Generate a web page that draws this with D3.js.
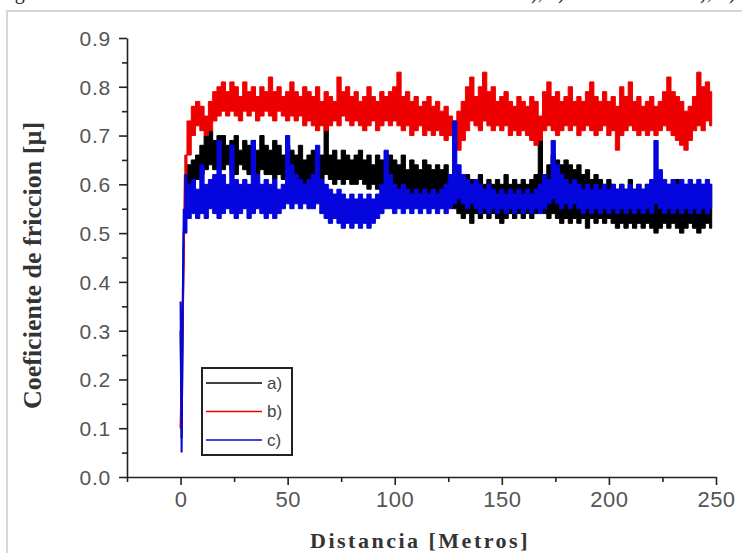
<!DOCTYPE html>
<html>
<head>
<meta charset="utf-8">
<script src="https://cdn.jsdelivr.net/npm/d3@7"></script>
<style>
  html, body { margin: 0; padding: 0; background: #fff; }
  svg { display: block; }
</style>
</head>
<body>
<div id="chart"></div>
<script>
// Friction coefficient vs sliding distance, three coatings a), b), c)
const series = ['a)', 'b)', 'c)']
const colors = ['#000000', '#ee0000', '#0505dd']

const xTicks = [0, 50, 100, 150, 200, 250]
const xMinor = [-25, 25, 75, 125, 175, 225]
const yTicks = [0, 0.1, 0.2, 0.3, 0.4, 0.5, 0.6, 0.7, 0.8, 0.9]
const yMinor = [0.05, 0.15, 0.25, 0.35, 0.45, 0.55, 0.65, 0.75, 0.85]

// running-in ramp (first 2 m)
const rampDist = [0, 0.5, 1, 1.5, 2]
const rampA = [0.30, 0.08, 0.30, 0.50, 0.54]
const rampB = [0.10, 0.20, 0.32, 0.45, 0.62]
const rampC = [0.36, 0.05, 0.35, 0.55, 0.52]

// steady part, sampled every 2 m from 2 to 248 m: lower / upper edge of the noisy band
const dist = d3.range(2, 249, 2)

const hiA = [
  0.62, 0.64, 0.65, 0.66, 0.68, 0.70, 0.71, 0.69, 0.70, 0.70,
  0.68, 0.69, 0.70, 0.67, 0.69, 0.68, 0.69, 0.67, 0.70, 0.68,
  0.67, 0.69, 0.68, 0.66, 0.68, 0.67, 0.66, 0.68, 0.65, 0.66,
  0.67, 0.65, 0.66, 0.73, 0.66, 0.67, 0.65, 0.67, 0.66, 0.65,
  0.66, 0.67, 0.65, 0.66, 0.64, 0.66, 0.65, 0.64, 0.66, 0.65,
  0.64, 0.66, 0.63, 0.65, 0.64, 0.63, 0.65, 0.64, 0.63, 0.64,
  0.63, 0.64, 0.62, 0.63, 0.62, 0.61, 0.62, 0.61, 0.60, 0.62,
  0.60, 0.61, 0.60, 0.61, 0.60, 0.62, 0.60, 0.61, 0.60, 0.61,
  0.60, 0.61, 0.62, 0.70, 0.62, 0.64, 0.66, 0.65, 0.64, 0.65,
  0.64, 0.63, 0.64, 0.62, 0.63, 0.61, 0.62, 0.61, 0.60, 0.61,
  0.60, 0.59, 0.60, 0.59, 0.61, 0.59, 0.60, 0.59, 0.60, 0.59,
  0.58, 0.60, 0.59, 0.60, 0.59, 0.61, 0.59, 0.60, 0.59, 0.60,
  0.59, 0.60, 0.59, 0.60
]
const loA = [
  0.54, 0.58, 0.60, 0.61, 0.62, 0.63, 0.64, 0.63, 0.64, 0.63,
  0.64, 0.63, 0.62, 0.64, 0.63, 0.62, 0.63, 0.62, 0.63, 0.62,
  0.62, 0.61, 0.62, 0.61, 0.62, 0.61, 0.62, 0.61, 0.60, 0.61,
  0.61, 0.60, 0.61, 0.62, 0.61, 0.60, 0.61, 0.60, 0.61, 0.60,
  0.60, 0.61, 0.60, 0.59, 0.60, 0.59, 0.60, 0.59, 0.60, 0.59,
  0.59, 0.60, 0.59, 0.58, 0.59, 0.58, 0.59, 0.58, 0.59, 0.58,
  0.58, 0.57, 0.56, 0.55, 0.54, 0.53, 0.54, 0.52, 0.54, 0.53,
  0.54, 0.53, 0.54, 0.53, 0.52, 0.53, 0.54, 0.53, 0.54, 0.53,
  0.54, 0.53, 0.54, 0.55, 0.54, 0.53, 0.54, 0.53, 0.52, 0.53,
  0.52, 0.53, 0.52, 0.53, 0.51, 0.53, 0.52, 0.53, 0.52, 0.53,
  0.52, 0.51, 0.52, 0.51, 0.52, 0.51, 0.52, 0.51, 0.52, 0.51,
  0.50, 0.51, 0.52, 0.51, 0.52, 0.51, 0.50, 0.51, 0.52, 0.51,
  0.50, 0.51, 0.52, 0.51
]

const hiB = [
  0.66, 0.73, 0.76, 0.77, 0.76, 0.74, 0.77, 0.79, 0.80, 0.81,
  0.79, 0.81, 0.80, 0.78, 0.81, 0.79, 0.80, 0.78, 0.80, 0.79,
  0.82, 0.79, 0.80, 0.78, 0.79, 0.81, 0.79, 0.78, 0.80, 0.79,
  0.78, 0.80, 0.77, 0.79, 0.78, 0.77, 0.82, 0.79, 0.80, 0.78,
  0.79, 0.77, 0.78, 0.80, 0.78, 0.77, 0.79, 0.78, 0.79, 0.80,
  0.83, 0.78, 0.79, 0.77, 0.78, 0.76, 0.77, 0.78, 0.76, 0.77,
  0.75, 0.76, 0.74, 0.73, 0.75, 0.77, 0.80, 0.82, 0.78, 0.80,
  0.83, 0.79, 0.80, 0.77, 0.78, 0.79, 0.77, 0.76, 0.78, 0.77,
  0.76, 0.78, 0.77, 0.74, 0.79, 0.81, 0.78, 0.79, 0.77, 0.78,
  0.80, 0.77, 0.78, 0.77, 0.79, 0.81, 0.78, 0.77, 0.79, 0.77,
  0.78, 0.76, 0.80, 0.78, 0.81, 0.77, 0.78, 0.76, 0.77, 0.78,
  0.76, 0.77, 0.79, 0.82, 0.79, 0.78, 0.77, 0.75, 0.76, 0.78,
  0.83, 0.80, 0.81, 0.79
]
const loB = [
  0.62, 0.66, 0.70, 0.72, 0.71, 0.70, 0.71, 0.73, 0.74, 0.75,
  0.74, 0.75, 0.74, 0.73, 0.75, 0.74, 0.75, 0.73, 0.74, 0.75,
  0.74, 0.73, 0.75, 0.74, 0.73, 0.74, 0.73, 0.74, 0.72, 0.73,
  0.72, 0.71, 0.72, 0.71, 0.72, 0.73, 0.72, 0.74, 0.73, 0.72,
  0.73, 0.72, 0.71, 0.72, 0.73, 0.71, 0.72, 0.73, 0.72, 0.73,
  0.72, 0.71, 0.72, 0.70, 0.71, 0.72, 0.70, 0.71, 0.70, 0.71,
  0.70, 0.69, 0.70, 0.68, 0.67, 0.69, 0.71, 0.73, 0.72, 0.71,
  0.73, 0.72, 0.71, 0.72, 0.71, 0.72, 0.70, 0.71, 0.70, 0.71,
  0.70, 0.69, 0.68, 0.69, 0.71, 0.72, 0.71, 0.70, 0.71, 0.72,
  0.71, 0.72, 0.70, 0.71, 0.72, 0.71, 0.70, 0.71, 0.72, 0.70,
  0.71, 0.67, 0.70, 0.71, 0.72, 0.71, 0.70, 0.71, 0.70, 0.71,
  0.70, 0.71, 0.72, 0.71, 0.70, 0.69, 0.68, 0.67, 0.69, 0.71,
  0.72, 0.71, 0.73, 0.72
]

const hiC = [
  0.62, 0.60, 0.61, 0.59, 0.64, 0.60, 0.61, 0.62, 0.69, 0.62,
  0.60, 0.68, 0.61, 0.60, 0.61, 0.60, 0.69, 0.62, 0.60, 0.61,
  0.60, 0.61, 0.59, 0.60, 0.70, 0.64, 0.62, 0.61, 0.60, 0.61,
  0.62, 0.68, 0.61, 0.60, 0.59, 0.58, 0.59, 0.58, 0.57, 0.58,
  0.57, 0.58, 0.57, 0.58, 0.57, 0.58, 0.60, 0.67, 0.62, 0.60,
  0.59, 0.60, 0.59, 0.58, 0.59, 0.58, 0.59, 0.58, 0.59, 0.58,
  0.59, 0.60, 0.62, 0.73, 0.64, 0.62, 0.61, 0.60, 0.61, 0.60,
  0.59, 0.60, 0.59, 0.58, 0.59, 0.58, 0.59, 0.58, 0.59, 0.58,
  0.59, 0.58, 0.59, 0.60, 0.62, 0.61, 0.69, 0.64, 0.62, 0.61,
  0.60, 0.61, 0.60, 0.59, 0.60, 0.59, 0.60, 0.59, 0.60, 0.59,
  0.60, 0.59, 0.60, 0.59, 0.60, 0.59, 0.60, 0.59, 0.60, 0.61,
  0.69, 0.63, 0.61, 0.60, 0.61, 0.60, 0.61, 0.60, 0.61, 0.60,
  0.61, 0.60, 0.61, 0.60
]
const loC = [
  0.50, 0.53, 0.54, 0.53, 0.54, 0.53, 0.55, 0.54, 0.53, 0.54,
  0.55, 0.54, 0.53, 0.54, 0.55, 0.53, 0.54, 0.55, 0.54, 0.53,
  0.54, 0.53, 0.54, 0.55, 0.56, 0.55, 0.56, 0.55, 0.56, 0.55,
  0.55, 0.56, 0.54, 0.53, 0.52, 0.53, 0.52, 0.51, 0.52, 0.51,
  0.52, 0.51, 0.52, 0.51, 0.52, 0.53, 0.54, 0.55, 0.55, 0.54,
  0.55, 0.54, 0.55, 0.54, 0.55, 0.54, 0.55, 0.54, 0.55, 0.54,
  0.55, 0.54, 0.55, 0.56, 0.57, 0.56, 0.55, 0.56, 0.55, 0.54,
  0.55, 0.54, 0.55, 0.54, 0.55, 0.54, 0.55, 0.54, 0.55, 0.54,
  0.55, 0.54, 0.55, 0.54, 0.55, 0.56, 0.57, 0.56, 0.55, 0.56,
  0.55, 0.56, 0.55, 0.54, 0.55, 0.54, 0.55, 0.54, 0.55, 0.54,
  0.55, 0.54, 0.55, 0.54, 0.55, 0.54, 0.55, 0.54, 0.55, 0.54,
  0.56, 0.55, 0.54, 0.55, 0.54, 0.55, 0.54, 0.55, 0.54, 0.55,
  0.54, 0.55, 0.54, 0.55
]

const width = 742
const height = 553

const x = d3.scaleLinear().domain([-25, 250]).range([127, 716])
const y = d3.scaleLinear().domain([0, 0.9]).range([477, 38])

const svg = d3
  .select('#chart')
  .append('svg')
  .attr('width', width)
  .attr('height', height)

svg.append('rect').attr('width', width).attr('height', height).attr('fill', '#fff')

// leftover of the caption line cut off above the figure
const capStyle = (t) =>
  t.style('font-family', '"Liberation Serif", serif').style('font-size', '20px').attr('fill', '#222')
capStyle(svg.append('text').attr('x', -2).attr('y', -1).text('Fig'))
capStyle(svg.append('text').attr('x', 531).attr('y', -1).text('),'))
capStyle(svg.append('text').attr('x', 558).attr('y', -1).text(')'))
capStyle(svg.append('text').attr('x', 700).attr('y', -1).text('),'))
capStyle(svg.append('text').attr('x', 729).attr('y', -1).text(')'))

// light frame around the figure
svg
  .append('rect')
  .attr('x', 7)
  .attr('y', 11)
  .attr('width', 800)
  .attr('height', 600)
  .attr('fill', 'none')
  .attr('stroke', '#d8d8d8')
  .attr('stroke-width', 2)

// data layers: a) black, b) red, c) blue on top
const plot = svg.append('g').attr('class', 'plot')
const bands = [
  { ramp: rampA, lo: loA, hi: hiA },
  { ramp: rampB, lo: loB, hi: hiB },
  { ramp: rampC, lo: loC, hi: hiC },
]

const area = d3
  .area()
  .curve(d3.curveStep)
  .x((d) => x(d.d))
  .y0((d) => y(d.lo))
  .y1((d) => y(d.hi))

const line = d3
  .line()
  .x((d) => x(d[0]))
  .y((d) => y(d[1]))

bands.forEach((b, i) => {
  const rows = dist.map((d, k) => ({ d, lo: b.lo[k], hi: b.hi[k] }))
  const g = plot.append('g').attr('class', 'series-' + i)

  g.append('path')
    .datum(rampDist.map((d, k) => [d, b.ramp[k]]).concat([[dist[0], b.lo[0]]]))
    .attr('d', line)
    .attr('fill', 'none')
    .attr('stroke', colors[i])
    .attr('stroke-width', 2)

  g.append('path')
    .datum(rows)
    .attr('d', area)
    .attr('fill', colors[i])
    .attr('stroke', colors[i])
    .attr('stroke-width', 1)
})

// axes
const labelFont = '"Liberation Sans", Arial, sans-serif'

const xAxis = svg
  .append('g')
  .attr('transform', `translate(0,${y(0)})`)
  .call(d3.axisBottom(x).tickValues(xTicks).tickSize(8).tickSizeOuter(0).tickPadding(6))
svg
  .append('g')
  .attr('transform', `translate(0,${y(0)})`)
  .call(d3.axisBottom(x).tickValues(xMinor).tickSize(5).tickFormat(''))
  .call((g) => g.select('.domain').remove())

const yAxis = svg
  .append('g')
  .attr('transform', `translate(${x(-25)},0)`)
  .call(
    d3.axisLeft(y).tickValues(yTicks).tickSize(8).tickSizeOuter(0).tickPadding(8).tickFormat(d3.format('.1f'))
  )
svg
  .append('g')
  .attr('transform', `translate(${x(-25)},0)`)
  .call(d3.axisLeft(y).tickValues(yMinor).tickSize(5).tickFormat(''))
  .call((g) => g.select('.domain').remove())

svg.selectAll('.domain, .tick line').attr('stroke', '#222').attr('stroke-width', 1.6)
xAxis
  .selectAll('.tick text')
  .style('font-family', labelFont)
  .style('font-size', '22px')
  .style('letter-spacing', '0.5px')
  .attr('fill', '#555')
  .attr('dy', '0.71em')
yAxis
  .selectAll('.tick text')
  .style('font-family', labelFont)
  .style('font-size', '21px')
  .style('letter-spacing', '0.8px')
  .attr('fill', '#555')
  .attr('dy', '0.35em')

// axis titles
svg
  .append('text')
  .attr('transform', `translate(41,${y(0.45) + 8}) rotate(-90)`)
  .attr('text-anchor', 'middle')
  .style('font-family', '"Liberation Serif", "Times New Roman", serif')
  .style('font-weight', 'bold')
  .style('font-size', '26px')
  .attr('fill', '#333')
  .text('Coeficiente de friccion [µ]')

svg
  .append('text')
  .attr('x', 420)
  .attr('y', 548)
  .attr('text-anchor', 'middle')
  .style('font-family', '"Liberation Serif", "Times New Roman", serif')
  .style('font-weight', 'bold')
  .style('font-size', '22px')
  .style('letter-spacing', '2.5px')
  .attr('fill', '#333')
  .text('Distancia [Metros]')

// legend
const legend = svg.append('g').attr('class', 'legend')
legend
  .append('rect')
  .attr('x', 202)
  .attr('y', 368)
  .attr('width', 90)
  .attr('height', 87)
  .attr('fill', '#fff')
  .attr('stroke', '#222')
  .attr('stroke-width', 2)

series.forEach((name, i) => {
  const ly = 383 + i * 28.5
  legend
    .append('line')
    .attr('x1', 206)
    .attr('x2', 262)
    .attr('y1', ly)
    .attr('y2', ly)
    .attr('stroke', colors[i])
    .attr('stroke-width', 1.6)
  legend
    .append('text')
    .attr('x', 267)
    .attr('y', ly)
    .attr('dy', '0.35em')
    .style('font-family', labelFont)
    .style('font-size', '17px')
    .attr('fill', '#444')
    .text(name)
})
</script>
</body>
</html>
